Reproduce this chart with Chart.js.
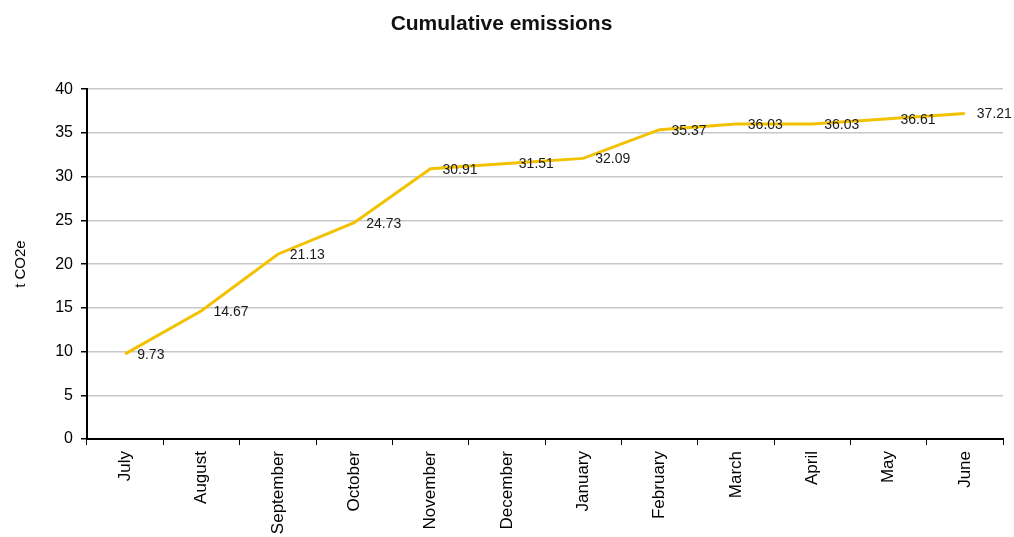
<!DOCTYPE html>
<html>
<head>
<meta charset="utf-8">
<script src="https://cdn.jsdelivr.net/npm/chart.js"></script>
<style>
  html, body { margin: 0; padding: 0; background: #fff; }
  #wrap { width: 1014px; height: 537px; }
</style>
</head>
<body>
<div id="wrap"><canvas id="chart"></canvas></div>
<script>
// datos del gráfico
const months = ['July', 'August', 'September', 'October', 'November', 'December',
                'January', 'February', 'March', 'April', 'May', 'June'];
const cumulative = [9.73, 14.67, 21.13, 24.73, 30.91, 31.51, 32.09, 35.37, 36.03, 36.03, 36.61, 37.21];
const yTicks = [0, 5, 10, 15, 20, 25, 30, 35, 40];

Chart.defaults.font.family = '"Liberation Sans", Arial, sans-serif';
Chart.defaults.color = '#000';

// etiquetas de valores a la derecha de cada punto
const valueLabels = {
  id: 'valueLabels',
  afterDatasetsDraw(chart) {
    const ctx = chart.ctx;
    const meta = chart.getDatasetMeta(0);
    ctx.save();
    ctx.font = '14px "Liberation Sans", Arial, sans-serif';
    ctx.fillStyle = '#1a1a1a';
    ctx.textAlign = 'left';
    ctx.textBaseline = 'middle';
    meta.data.forEach((pt, i) => {
      ctx.fillText(cumulative[i].toFixed(2), pt.x + 12, pt.y + 1);
    });
    ctx.restore();
  }
};

new Chart(document.getElementById('chart'), {
  type: 'line',
  data: {
    labels: months,
    datasets: [{
      data: cumulative,
      borderColor: '#f2c200',
      borderWidth: 3,
      pointRadius: 0,
      tension: 0,
      fill: false
    }]
  },
  options: {
    responsive: true,
    maintainAspectRatio: false,
    animation: false,
    layout: { padding: { left: 0, right: 11, top: 0, bottom: 0 } },
    plugins: {
      legend: { display: false },
      tooltip: { enabled: false },
      title: {
        display: true,
        text: 'Cumulative emissions',
        font: { size: 21, weight: 'bold' },
        color: '#111',
        padding: { top: 12, bottom: 52 }
      }
    },
    scales: {
      x: {
        offset: true,
        grid: { drawOnChartArea: false, drawTicks: true, tickLength: 6, tickColor: '#000', offset: true },
        border: { color: '#000', width: 2 },
        ticks: {
          minRotation: 90, maxRotation: 90, padding: 6,
          font: { size: 17 }, color: '#000'
        },
        afterFit(scale) { scale.height = 98; }
      },
      y: {
        min: 0, max: 40,
        afterBuildTicks(scale) { scale.ticks = yTicks.map(v => ({ value: v })); },
        grid: { color: '#c8c8c8', lineWidth: 1.5, tickLength: 6, tickColor: '#000' },
        border: { color: '#000', width: 2 },
        ticks: { padding: 8, font: { size: 16 }, color: '#000' },
        title: { display: true, text: 't CO2e', font: { size: 15 }, color: '#000', padding: { top: 12, bottom: 10 } },
        afterFit(scale) { scale.width = 87; }
      }
    }
  },
  plugins: [valueLabels]
});
</script>
</body>
</html>
